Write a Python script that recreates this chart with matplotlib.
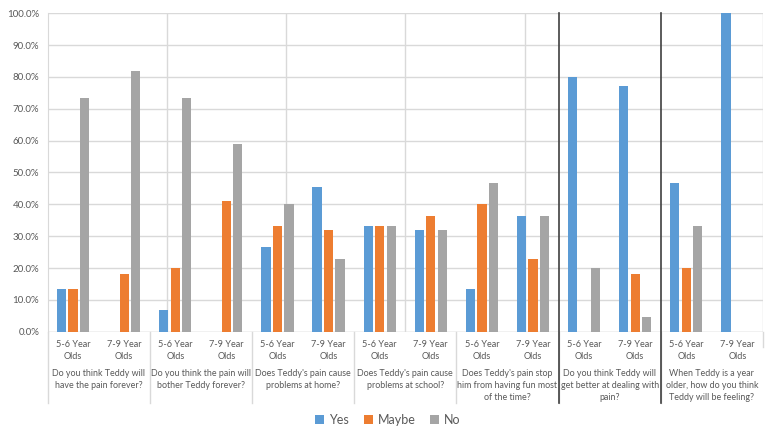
import numpy as np
import matplotlib.pyplot as plt
from matplotlib.lines import Line2D

plt.rcParams['font.family'] = ['Lato', 'DejaVu Sans']

ages = ["5-6 Year\nOlds", "7-9 Year\nOlds"] * 7
questions = [
    "Do you think Teddy will\nhave the pain forever?",
    "Do you think the pain will\nbother Teddy forever?",
    "Does Teddy's pain cause\nproblems at home?",
    "Does Teddy's pain cause\nproblems at school?",
    "Does Teddy's pain stop\nhim from having fun most\nof the time?",
    "Do you think Teddy will\nget better at dealing with\npain?",
    "When Teddy is a year\nolder, how do you think\nTeddy will be feeling?",
]
yes = [13.3, 0, 6.7, 0, 26.7, 45.5, 33.3, 31.8, 13.3, 36.4, 80.0, 77.3, 46.7, 100.0]
maybe = [13.3, 18.2, 20.0, 40.9, 33.3, 31.8, 33.3, 36.4, 40.0, 22.7, 0, 18.2, 20.0, 0]
no = [73.3, 81.8, 73.3, 59.1, 40.0, 22.7, 33.3, 31.8, 46.7, 36.4, 20.0, 4.5, 33.3, 0]

colors = ['#5b9bd5', '#ed7d31', '#a5a5a5']
W, H = 777, 444
fig = plt.figure(figsize=(W / 100, H / 100), dpi=100)
left, right, top, bottom = 47.5, 763, 13.3, 331.7
ax = fig.add_axes([left / W, 1 - bottom / H, (right - left) / W, (bottom - top) / H])
ph = bottom - top

x = np.arange(len(yes)) + 0.5
bw = 0.18
off = 0.225
ax.bar(x - off, yes, bw, color=colors[0], label='Yes', zorder=3)
ax.bar(x, maybe, bw, color=colors[1], label='Maybe', zorder=3)
ax.bar(x + off, no, bw, color=colors[2], label='No', zorder=3)

ax.set_xlim(0, 14)
ax.set_ylim(0, 100)
ax.set_yticks(np.arange(0, 101, 10))
ax.set_yticklabels([f"{v:.1f}%" for v in range(0, 101, 10)], fontsize=7, color='#595959')
ax.tick_params(axis='y', length=0, pad=6)
ax.set_xticks([])
ax.yaxis.grid(True, color='#d9d9d9', linewidth=1, zorder=0)
for s in ['top', 'bottom', 'right']:
    ax.spines[s].set_visible(False)
ax.spines['left'].set_color('#d9d9d9')
ax.axhline(0, color='#d9d9d9', linewidth=1, zorder=1)

# vertical gridlines
for k in [1, 2, 3, 4]:
    ax.axvline(14 / 6 * k, color='#d9d9d9', linewidth=1, zorder=0)
ax.axvline(14, color='#d9d9d9', linewidth=1, zorder=0)

tr = ax.get_xaxis_transform()


def ypix(p):
    return -(p - bottom) / ph


# category labels, one line at a time
for xi, lab in zip(x, ages):
    for j, line in enumerate(lab.split('\n')):
        ax.text(xi, ypix(344 + 12 * j), line, transform=tr, ha='center', va='center',
                fontsize=6.6, color='#595959')
for g, q in enumerate(questions):
    for j, line in enumerate(q.split('\n')):
        ax.text(2 * g + 1, ypix(373 + 12 * j), line, transform=tr, ha='center', va='center',
                fontsize=6.4, color='#595959')
# separators in label area
for b in range(0, 14, 2):
    ax.add_line(Line2D([b, b], [0, ypix(403)], transform=tr,
                       color='#d9d9d9', linewidth=1, clip_on=False))
ax.add_line(Line2D([14, 14], [0, ypix(347)], transform=tr,
                   color='#d9d9d9', linewidth=1, clip_on=False))
# dark divider lines
for b in [10, 12]:
    ax.add_line(Line2D([b, b], [1, ypix(403)], transform=tr,
                       color='#404040', linewidth=1.2, clip_on=False, zorder=5))

fig.legend(loc='center', bbox_to_anchor=(388 / W, 1 - 420 / H), ncol=3, frameon=False,
           fontsize=9, handlelength=0.7, handleheight=0.7, handletextpad=0.4,
           columnspacing=1.2, labelcolor='#595959')

fig.savefig('out.png', dpi=100)
